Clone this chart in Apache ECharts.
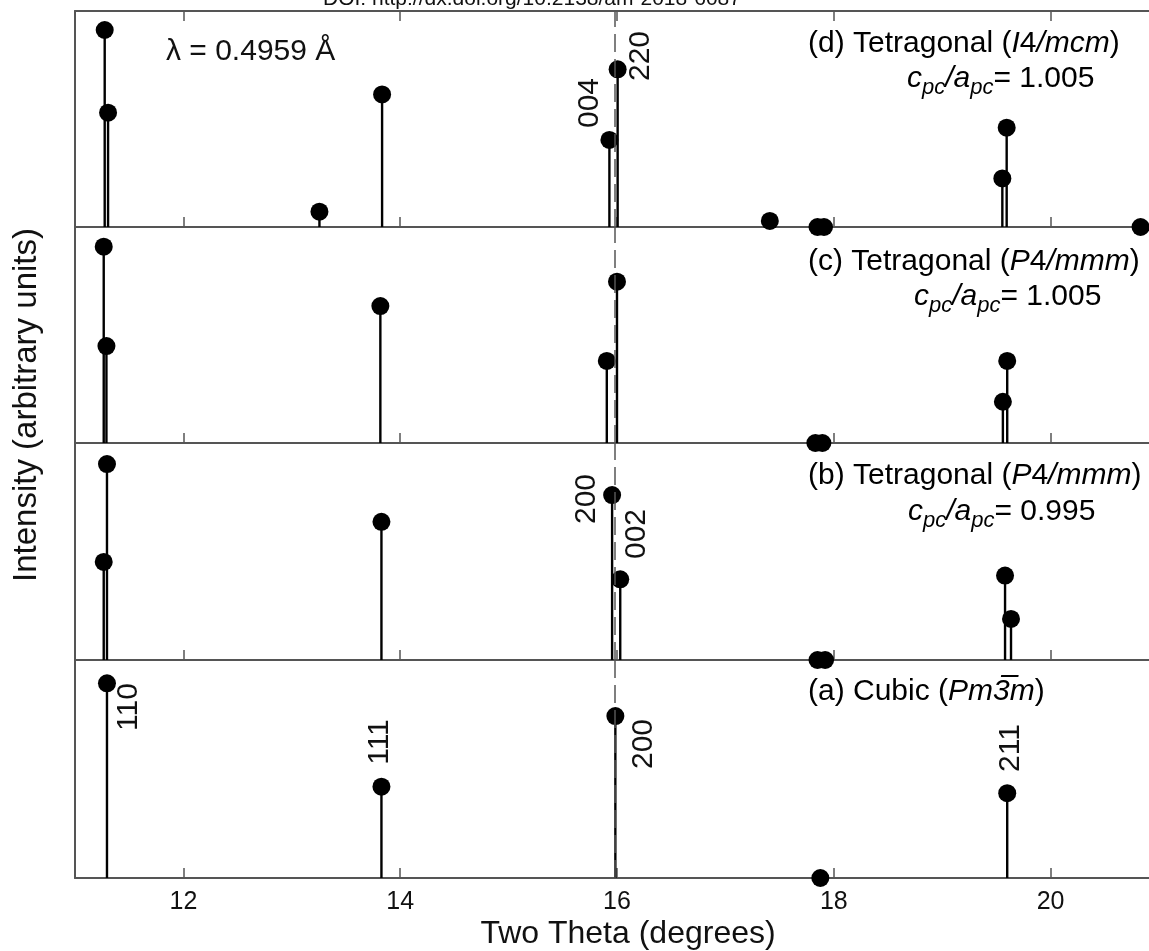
<!DOCTYPE html>
<html>
<head>
<meta charset="utf-8">
<script src="https://cdn.jsdelivr.net/npm/echarts@6/dist/echarts.min.js"></script>
<style>
  html, body { margin: 0; padding: 0; background: #fff; overflow: hidden; }
  #chart { width: 1149px; height: 951px; }
</style>
</head>
<body>
<div id="chart"></div>
<script>
// ---------- data (two theta in degrees, intensity as fraction of panel height) ----------
const xTickValues = [12, 14, 16, 18, 20];

// (d) Tetragonal I4/mcm, c/a = 1.005 (top panel)
const twoThetaD  = [11.274, 11.305, 13.255, 13.833, 15.930, 16.006, 17.410, 17.850, 17.910, 19.555, 19.595, 20.830];
const intensityD = [0.912, 0.529, 0.071, 0.614, 0.403, 0.730, 0.028, 0.0, 0.0, 0.225, 0.460, 0.0];

// (c) Tetragonal P4/mmm, c/a = 1.005
const twoThetaC  = [11.265, 11.290, 13.817, 15.906, 16.000, 17.830, 17.895, 19.560, 19.600];
const intensityC = [0.909, 0.449, 0.634, 0.380, 0.747, 0.0, 0.0, 0.191, 0.380];

// (b) Tetragonal P4/mmm, c/a = 0.995
const twoThetaB  = [11.265, 11.295, 13.827, 15.955, 16.030, 17.850, 17.920, 19.580, 19.635];
const intensityB = [0.452, 0.903, 0.637, 0.760, 0.372, 0.0, 0.0, 0.389, 0.189];

// (a) Cubic Pm-3m (bottom panel)
const twoThetaA  = [11.295, 13.827, 15.985, 17.876, 19.600];
const intensityA = [0.893, 0.419, 0.743, 0.0, 0.389];

const referenceLine = 15.982;   // dashed line through cubic 200

// ---------- chart ----------
const FONT = '"Liberation Sans", Arial, Helvetica, sans-serif';
const TXT = '#111';
const AXC = '#555';
const X_MIN = 11, X_MAX = 20.908;   // visible part of the axis (figure is cropped on the right)

const panels = [
  [twoThetaD, intensityD],
  [twoThetaC, intensityC],
  [twoThetaB, intensityB],
  [twoThetaA, intensityA]
];

const grids = [
  { left: 75, top: 11,  right: 0, height: 216 },
  { left: 75, top: 227, right: 0, height: 216 },
  { left: 75, top: 443, right: 0, height: 217 },
  { left: 75, top: 660, right: 0, height: 218 }
];

const xAxes = [];
const yAxes = [];
const series = [];

panels.forEach((p, i) => {
  xAxes.push({
    type: 'value', gridIndex: i, min: X_MIN, max: X_MAX, position: 'bottom',
    axisLine: { show: true, onZero: false, lineStyle: { color: AXC, width: 2 } },
    axisTick: { show: true, inside: true, length: 10, customValues: xTickValues,
                lineStyle: { color: AXC, width: 1.5 } },
    axisLabel: { show: i === 3, customValues: xTickValues, margin: 12,
                 fontSize: 25, color: TXT, fontFamily: FONT },
    splitLine: { show: false }
  });
  yAxes.push({
    type: 'value', gridIndex: i, min: 0, max: 1,
    axisLine: { show: true, onZero: false, lineStyle: { color: AXC, width: 2 } },
    axisTick: { show: false }, axisLabel: { show: false }, splitLine: { show: false }
  });
  const data = p[0].map((x, k) => [x, p[1][k]]);
  series.push({
    type: 'custom', xAxisIndex: i, yAxisIndex: i, z: 3,
    data: data,
    encode: { x: 0, y: 1 },
    renderItem: function (params, api) {
      const x = api.value(0), y = api.value(1);
      const a = api.coord([x, 0]), b = api.coord([x, y]);
      return { type: 'line', shape: { x1: a[0], y1: a[1], x2: b[0], y2: b[1] },
               style: { stroke: '#000', lineWidth: 2.4 } };
    },
    markLine: {
      silent: true, symbol: 'none', label: { show: false },
      lineStyle: { color: '#555', width: 1.5, type: [18, 7], opacity: 1 },
      data: [{ xAxis: referenceLine }]
    }
  });
  series.push({
    type: 'scatter', xAxisIndex: i, yAxisIndex: i, z: 4, clip: false,
    symbol: 'circle', symbolSize: 18,
    itemStyle: { color: '#000', opacity: 1 },
    data: data
  });
});

// top border with ticks for the top panel
xAxes.push({
  type: 'value', gridIndex: 0, min: X_MIN, max: X_MAX, position: 'top',
  axisLine: { show: true, onZero: false, lineStyle: { color: AXC, width: 2 } },
  axisTick: { show: true, inside: true, length: 10, customValues: xTickValues,
              lineStyle: { color: AXC, width: 1.5 } },
  axisLabel: { show: false }, splitLine: { show: false }
});

function richStyles() {
  return {
    n: { fontSize: 30, fontFamily: FONT, color: TXT, lineHeight: 40 },
    i: { fontSize: 30, fontFamily: FONT, color: TXT, fontStyle: 'italic', lineHeight: 40 },
    s: { fontSize: 22, fontFamily: FONT, color: TXT, fontStyle: 'italic', lineHeight: 22, verticalAlign: 'bottom' }
  };
}
function richText(x, y, text) {
  return { type: 'text', x: x, y: y, z: 10,
           style: { text: text, rich: richStyles(), align: 'left', verticalAlign: 'middle' } };
}
function plainText(x, y, text, size, rot, align) {
  return { type: 'text', x: x, y: y, rotation: rot || 0, z: 10,
           style: { text: text, fontSize: size, fontFamily: FONT, fill: TXT,
                    align: align || 'center', verticalAlign: 'middle' } };
}
const R = Math.PI / 2;

const graphics = [
  plainText(323, -1, 'DOI: http://dx.doi.org/10.2138/am-2018-6087', 21, 0, 'left'),
  plainText(166, 52, 'λ = 0.4959 Å', 30, 0, 'left'),
  richText(808, 44,  '{n|(d) Tetragonal (}{i|I}{n|4}{i|/mcm}{n|)}'),
  richText(907, 79,  '{i|c}{s|pc}{i|/a}{s|pc}{n|= 1.005}'),
  richText(808, 262, '{n|(c) Tetragonal (}{i|P}{n|4}{i|/mmm}{n|)}'),
  richText(914, 297, '{i|c}{s|pc}{i|/a}{s|pc}{n|= 1.005}'),
  richText(808, 476, '{n|(b) Tetragonal (}{i|P}{n|4}{i|/mmm}{n|)}'),
  richText(908, 512, '{i|c}{s|pc}{i|/a}{s|pc}{n|= 0.995}'),
  richText(808, 692, '{n|(a) Cubic (}{i|Pm3\u0305m}{n|)}'),
  // hkl labels (rotated)
  plainText(641, 56, '220', 30, R),
  plainText(590, 103, '004', 30, R),
  plainText(587, 499, '200', 30, R),
  plainText(637, 534, '002', 30, R),
  plainText(129, 707, '110', 30, R),
  plainText(380, 742, '111', 30, R),
  plainText(644, 744, '200', 30, R),
  plainText(1011, 748, '211', 30, R),
  // axis titles
  plainText(27, 405, 'Intensity (arbitrary units)', 33, R),
  plainText(628, 934, 'Two Theta (degrees)', 32, 0)
];

const chart = echarts.init(document.getElementById('chart'), null, { renderer: 'canvas' });
chart.setOption({
  backgroundColor: '#fff',
  animation: false,
  grid: grids,
  xAxis: xAxes,
  yAxis: yAxes,
  series: series,
  graphic: graphics
});
</script>
</body>
</html>
